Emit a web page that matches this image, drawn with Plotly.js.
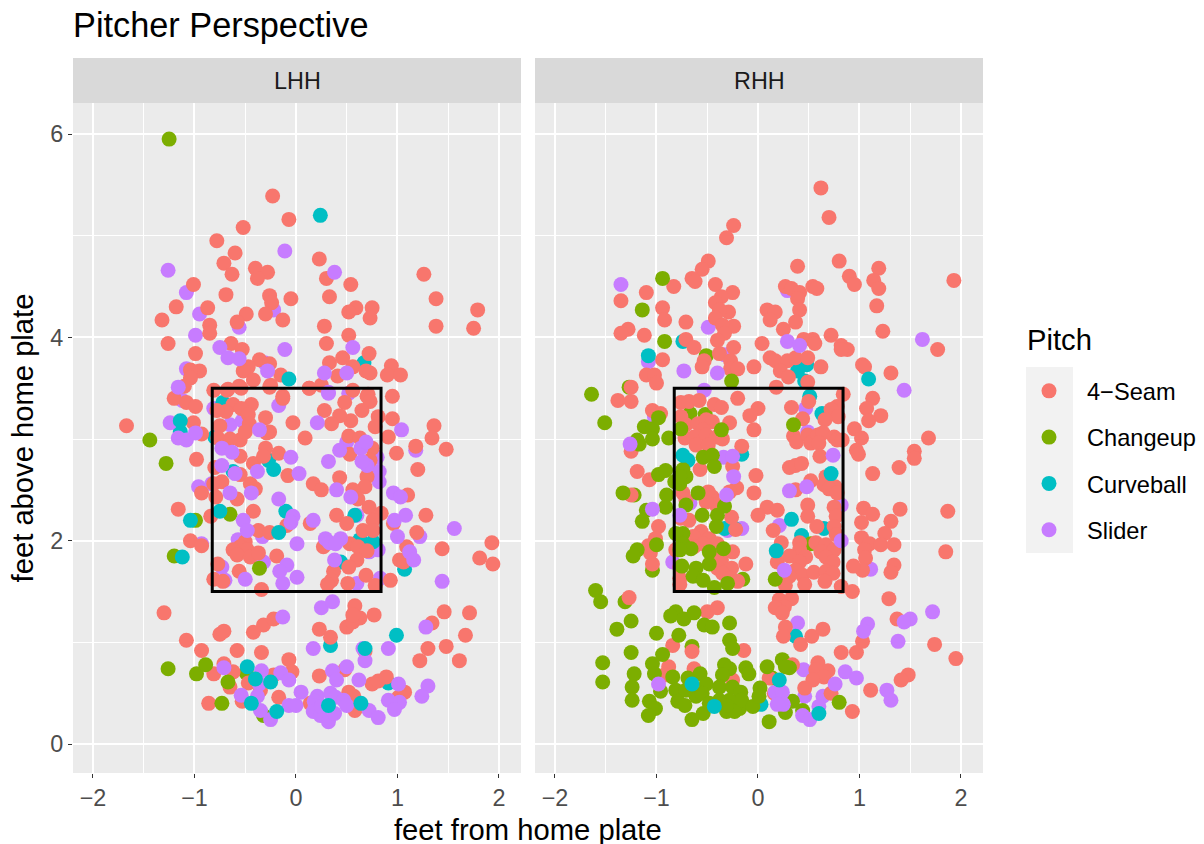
<!DOCTYPE html>
<html><head><meta charset="utf-8">
<script src="https://cdn.plot.ly/plotly-3.0.1.min.js"></script>
<style>html,body{margin:0;padding:0;background:#fff}</style></head>
<body><div id="chart" style="width:1204px;height:844px"></div>
<script>
const pitches = ['4\u2212Seam','Changeup','Curveball','Slider'];
const pitchColors = ['#F8766D','#7CAE00','#00BFC4','#C77CFF'];
const panels = ['LHH','RHH'];
const zoneX = [-0.825,0.838];
const zoneY = [1.5,3.5];

// LHH values: [feet from plate, feet above plate]
const lhhSeam = [[-0.23,5.39],[-0.07,5.16],[-0.52,5.08],[-0.78,4.95],[-0.60,4.83],[-0.71,4.73],[-0.63,4.62],[-0.40,4.68],[-0.28,4.64],[-0.38,4.58],[-0.69,4.42],[-1.01,4.52],[-1.18,4.30],[-1.32,4.17],[-0.87,4.29],[-0.85,4.12],[-0.85,4.04],[-1.26,3.94],[-0.99,3.84],[-0.49,4.23],[-0.58,4.15],[-0.26,4.41],[-0.24,4.34],[-0.30,4.23],[-0.13,4.17],[-0.05,4.38],[0.23,4.77],[0.30,4.58],[0.54,4.52],[0.33,4.40],[0.59,4.29],[0.52,4.25],[0.75,4.29],[0.73,4.19],[0.28,4.11],[0.52,4.02],[0.30,3.94],[0.72,3.84],[1.26,4.62],[1.38,4.38],[1.38,4.11],[1.79,4.27],[1.75,4.09],[-0.64,3.94],[-0.53,3.88],[-0.36,3.78],[-0.26,3.74],[-0.47,3.71],[-0.52,3.67],[-0.95,3.67],[-1.04,3.68],[-1.04,3.60],[-1.10,3.52],[0.33,3.75],[0.46,3.80],[0.56,3.71],[0.41,3.62],[0.69,3.67],[0.73,3.65],[0.94,3.72],[0.90,3.63],[1.03,3.63],[-0.15,3.63],[0.13,3.50],[0.25,3.53],[0.56,3.48],[0.71,3.44],[0.95,3.42],[-0.13,3.42],[-0.81,3.48],[-0.68,3.48],[-0.56,3.52],[-0.42,3.58],[-0.25,3.53],
[-1.67,3.13],[-1.20,3.40],[-1.08,3.36],[-0.99,3.32],[-0.67,3.49],[-0.54,3.50],[-0.26,3.51],[-0.13,3.40],[0.13,3.50],[-0.62,3.34],[-0.44,3.34],[-0.54,3.30],[-0.69,3.27],[-0.78,3.28],[-0.30,3.21],[-0.47,3.24],[-0.46,3.15],[-0.75,3.13],[-0.03,3.16],[0.28,3.28],[0.48,3.36],[0.70,3.42],[0.73,3.37],[0.65,3.28],[0.95,3.20],[0.81,3.22],[0.54,3.18],[0.43,3.23],[0.35,3.15],[0.78,3.12],[1.36,3.13],[1.34,3.01],[1.18,2.93],[1.48,2.90],[1.20,2.70],[0.99,2.86],[0.91,3.02],[0.52,3.03],[0.09,3.01],[0.53,2.85],[0.63,3.01],[0.75,2.91],[0.73,2.79],[0.70,2.63],[0.68,2.53],[0.43,2.62],[0.17,2.56],[0.25,2.50],[-0.08,2.64],[0.56,2.50],[0.61,2.41],[1.10,2.45],[-0.17,2.86],[-0.30,2.91],[-0.42,2.76],[-0.32,2.83],[-0.26,3.07],[-0.29,3.06],[-0.55,2.99],[-0.50,3.07],[-0.65,3.00],[-0.77,3.01],[-0.55,2.83],[-0.93,3.05],[-1.01,3.16],[-0.98,2.80],[-0.80,2.72],[-0.73,2.58],[-0.81,2.56],[-0.93,2.47],[-0.79,2.43],[-0.55,2.65],[-0.45,2.56],[-0.40,2.51],[-0.58,2.41],[-1.16,2.31],[-0.84,2.24],[-0.42,2.29],[0.40,2.25],[0.72,2.33],[0.84,2.27],[0.50,2.17],[0.66,2.10],[0.76,2.20],[0.76,2.10],[0.14,2.17],[1.28,2.25],[1.19,2.08],[0.96,2.17],[-0.09,2.15],[-0.37,2.10],[-0.26,2.08],[-1.04,2.00],[-0.93,1.95],[-0.50,1.99],[-0.55,1.94],[-0.62,1.91],[-0.48,1.91],[-0.58,1.86],[-0.45,1.84],[-0.37,1.88],[-0.19,1.85],[0.27,1.94],[0.53,1.97],[0.61,1.94],[0.70,1.90],[0.60,1.81],[0.52,1.74],[0.37,1.70],[0.35,1.61],[0.31,1.57],[0.51,1.58],[0.69,1.66],[0.78,1.56],[0.93,1.61],[1.44,1.92],[1.93,1.98],[1.81,1.83],[1.94,1.77],[1.09,1.94],[1.02,1.81],[1.06,1.79],[-0.77,1.77],[-0.56,1.70],[-0.81,1.62],[-0.72,1.60],[-0.34,1.52],
[-1.30,1.29],[-1.08,1.02],[-0.93,0.92],[-0.75,1.08],[-0.71,1.11],[-0.58,0.92],[-0.42,1.10],[-0.32,1.17],[-0.22,1.23],[-0.34,0.90],[-0.71,0.79],[-0.62,0.71],[-0.81,0.69],[-0.65,0.56],[-0.07,0.83],[-0.04,0.71],[-0.22,0.68],[-0.47,0.60],[-0.35,0.53],[-0.53,0.42],[-0.86,0.40],[-0.17,0.46],[0.14,0.40],[0.23,0.67],[0.23,1.13],[0.34,1.05],[0.58,1.36],[0.50,1.15],[0.56,1.20],[0.63,1.24],[0.56,1.27],[0.77,1.27],[0.48,0.73],[0.52,0.51],[0.57,0.47],[0.58,0.33],[0.68,0.91],[0.75,0.59],[0.81,0.62],[0.89,0.66],[1.01,0.46],[1.07,0.51],[1.34,1.19],[1.46,1.30],[1.71,1.29],[1.67,1.07],[1.30,0.94],[1.48,0.96],[1.22,0.82],[1.61,0.82]];
const lhhChangeupLow = [[-0.49,0.70],[-0.32,0.28]];
const lhhChangeupTop = [[-1.25,5.95],[-1.44,2.99],[-1.28,2.76],[-0.99,2.20],[-0.65,2.26],[-1.20,1.85],[-0.36,1.73],[-1.26,0.74],[-0.98,0.69],[-0.89,0.78],[-0.67,0.61],[-0.73,0.40]];
const lhhCurveLow = [[0.67,3.75],[-1.14,3.07],[-0.72,3.36],[-0.80,3.02],[-0.27,2.79],[0.58,2.25],[0.63,2.01],[0.76,1.99],[0.44,1.79],[0.34,0.97],[0.91,0.60],[-0.62,2.68],[-0.10,2.29],[1.07,1.72]];
const lhhCurveTop = [[0.24,5.20],[-0.07,3.59],[-1.14,3.18],[-0.22,2.70],[-0.75,2.29],[-0.17,2.08],[-1.04,2.20],[-1.12,1.84],[-0.48,0.76],[-0.40,0.64],[-0.25,0.61],[-0.44,0.40],[-0.19,0.32],[0.68,0.94],[0.99,1.07],[0.32,0.38],[0.64,0.40]];
const lhhSliderLow = [[-1.08,4.44],[-0.95,4.23],[-0.56,4.10],[-0.22,4.27],[-0.99,4.02],[-1.08,3.69],[-0.31,3.75],[-1.12,3.38],[-0.81,3.30],[-0.17,3.33],[0.52,3.45],[-0.65,3.14],[-0.53,3.18],[0.82,2.68],[0.82,2.58],[1.18,2.89],[0.50,2.97],[0.80,2.82],[-0.96,2.53],[-0.83,2.56],[0.60,2.25],[-0.93,1.97],[-0.33,2.04],[-0.57,2.01],[0.72,1.89],[0.81,1.91],[1.22,2.04],[-0.32,1.79],[-0.73,1.74],[-0.70,1.61],[0.60,1.58],[0.83,1.63]];
const lhhSliderTop = [[-1.26,4.66],[-0.11,4.85],[0.38,4.64],[-0.75,3.90],[-0.67,3.80],[-0.56,3.79],[-0.11,3.88],[0.56,3.90],[-1.16,3.51],[-0.28,3.67],[0.28,3.65],[0.50,3.65],[0.32,3.45],[0.32,3.46],[-1.24,3.16],[-1.16,3.01],[-1.08,2.99],[-0.99,3.06],[-0.36,3.09],[0.21,3.16],[1.04,3.09],[-0.73,2.91],[-0.63,2.87],[-0.73,2.74],[-0.38,2.68],[-0.05,2.82],[0.03,2.66],[0.32,2.78],[-0.60,2.66],[0.43,2.89],[0.64,2.91],[0.69,2.97],[0.70,2.74],[0.65,2.78],[0.40,2.50],[0.54,2.43],[-0.65,2.47],[-0.44,2.47],[0.96,2.47],[1.03,2.43],[-0.17,2.41],[-0.52,2.20],[-0.48,2.10],[-0.03,2.24],[-0.05,2.18],[0.17,2.20],[1.08,2.25],[0.97,2.20],[1.56,2.12],[1.00,2.04],[0.01,1.97],[0.29,2.02],[0.33,1.98],[0.44,2.02],[0.39,1.97],[1.12,1.89],[1.16,1.81],[0.38,1.81],[-0.09,1.76],[-0.16,1.70],[-0.50,1.62],[0.01,1.64],[-0.13,1.58],[1.44,1.60],[0.25,1.34],[0.36,1.40],[-0.13,1.25],[1.28,1.15],[0.17,0.94],[0.66,0.94],[0.91,0.94],[0.68,0.82],[-0.71,0.75],[-0.34,0.72],[-0.15,0.70],[-0.07,0.63],[-0.36,0.59],[-0.54,0.48],[-0.38,0.47],[-0.35,0.33],[-0.25,0.24],[-0.07,0.38],[0,0.38],[0.05,0.51],[0.36,0.72],[0.50,0.76],[0.40,0.63],[0.62,0.63],[0.21,0.47],[0.34,0.50],[0.39,0.46],[0.47,0.43],[0.50,0.38],[0.18,0.42],[0.19,0.38],[0.17,0.32],[0.24,0.28],[0.32,0.22],[0.38,0.30],[0.25,0.37],[0.72,0.33],[0.81,0.26],[0.91,0.43],[1.02,0.41],[0.97,0.34],[1.01,0.59],[1.30,0.57],[1.24,0.47]];

// RHH values
const rhhSeam = [[0.62,5.47],[0.70,5.18],[-0.24,5.10],[-0.31,4.98],[-0.49,4.75],[-0.55,4.67],[-0.65,4.58],[-0.62,4.55],[-0.83,4.50],[-1.10,4.44],[-1.35,4.36],[-0.94,4.29],[-0.92,4.17],[-0.71,4.15],[-1.28,4.08],[-1.35,4.04],[-1.12,4.02],[-0.71,3.98],[-0.63,3.90],[-0.94,3.78],[-1.10,3.63],[-1.02,3.63],[-1.00,3.55],[-1.25,3.51],[-0.42,4.52],[-0.25,4.44],[-0.36,4.40],[-0.42,4.34],[-0.29,4.25],[-0.38,4.27],[-0.42,4.19],[-0.24,4.11],[-0.35,4.12],[-0.33,4.04],[-0.40,3.97],[-0.24,3.90],[-0.38,3.84],[-0.27,3.77],[-0.53,3.77],[-0.55,3.71],[-0.27,3.69],[-0.20,3.69],[-0.04,3.71],[0.09,4.27],[0.17,4.25],[0.12,4.17],[0.04,3.94],[0.25,4.08],[0.27,4.50],[0.33,4.48],[0.41,4.44],[0.39,4.38],[0.41,4.27],[0.37,4.15],[0.39,4.70],[0.54,4.50],[0.58,4.48],[0.45,3.98],[0.54,3.98],[0.56,3.94],[0.72,4.02],[0.82,3.92],[0.88,3.88],[0.82,3.88],[0.80,4.75],[0.90,4.60],[0.95,4.52],[1.19,4.68],[1.14,4.56],[1.19,4.48],[1.17,4.31],[1.23,4.06],[1.93,4.56],[1.77,3.88],[1.03,3.73],[1.05,3.71],[1.31,3.65],[0.12,3.80],[0.17,3.77],[0.29,3.77],[0.37,3.80],[0.49,3.80],[0.22,3.67],[0.30,3.61],[0.62,3.71],[0.49,3.56],[0.18,3.51],
[-1.38,3.38],[-1.25,3.37],[-1.04,3.28],[-0.96,3.25],[-1.25,2.88],[-1.19,2.68],[-1.07,2.60],[-1.25,2.45],[-0.98,2.14],[-1.01,2.02],[-1.08,1.95],[-1.06,1.88],[-1.04,1.77],[-0.76,3.36],[-0.68,3.37],[-0.58,3.38],[-0.43,3.34],[-0.36,3.31],[-0.20,3.40],[0.00,3.30],[-0.08,3.23],[-0.04,3.09],[-0.28,3.16],[-0.76,3.22],[-0.71,3.14],[-0.59,3.15],[-0.51,3.19],[-0.45,3.17],[-0.54,3.09],[-0.72,3.01],[-0.63,3.02],[-0.51,3.04],[-0.41,3.02],[-0.35,3.00],[-0.61,2.94],[-0.49,2.94],[-0.16,2.93],[-0.25,2.73],[-0.57,2.70],[-0.02,2.64],[-0.21,2.52],[-0.28,2.48],[-0.04,2.47],[-0.74,2.47],[-0.71,2.40],[-0.76,2.22],[-0.68,2.20],[-0.49,2.48],[-0.45,2.43],[-0.41,2.35],[-0.51,2.38],[-0.26,2.23],[-0.22,2.11],[-0.56,2.09],[-0.64,2.04],[-0.48,2.02],[-0.54,1.97],[-0.40,1.97],[-0.63,1.94],[-0.25,1.89],[-0.45,1.86],[-0.36,1.81],[-0.12,1.77],[-0.26,1.73],[-0.40,1.73],[-0.35,1.68],[-0.20,1.60],[-0.28,1.63],[-0.77,1.74],[-0.77,1.63],[-0.77,1.57],[-0.81,1.91],
[0.33,3.31],[0.50,3.37],[0.44,3.20],[0.78,3.32],[0.72,3.29],[0.79,3.22],[0.84,3.44],[0.66,3.19],[1.13,3.40],[1.07,3.30],[1.21,3.23],[1.09,3.18],[0.95,3.10],[1.02,3.01],[0.97,2.89],[0.99,2.85],[1.68,3.01],[1.54,2.88],[1.54,2.81],[1.39,2.72],[1.13,2.66],[0.35,3.03],[0.38,2.97],[0.49,3.04],[0.52,2.96],[0.59,3.04],[0.64,3.06],[0.60,2.96],[0.75,3.02],[0.78,2.99],[0.83,2.99],[0.61,2.83],[0.31,2.72],[0.37,2.74],[0.43,2.76],[0.37,2.50],[0.52,2.59],[0.67,2.63],[0.65,2.55],[0.76,2.53],[0.70,2.51],[0.78,2.47],[0.49,2.35],[0.49,2.24],[0.09,2.33],[0.00,2.25],[0.19,2.30],[0.58,2.14],[0.75,2.33],[0.77,2.24],[0.75,2.14],[0.77,2.06],[0.15,2.10],[0.23,1.98],[0.41,1.98],[0.41,1.91],[0.57,1.98],[0.67,1.96],[0.62,1.89],[0.75,1.91],[0.31,1.85],[0.47,1.84],[0.19,1.79],[0.41,1.79],[0.67,1.84],[0.74,1.79],[0.37,1.71],[0.44,1.66],[0.55,1.69],[0.67,1.70],[0.74,1.68],[0.31,1.65],[0.66,1.60],[0.46,1.57],[0.27,1.56],[0.82,1.55],[0.93,1.50],[1.04,2.32],[1.13,2.26],[1.02,2.18],[1.31,2.19],[1.40,2.31],[1.87,2.29],[1.25,2.07],[1.02,2.03],[1.10,1.97],[1.21,1.96],[1.34,1.96],[1.05,1.91],[1.06,1.83],[1.03,1.71],[0.94,1.75],[1.34,1.76],[1.31,1.69],[1.85,1.89],[1.29,1.43],
[-1.27,1.44],[-0.50,1.30],[-0.40,1.34],[0.21,1.42],[0.33,1.43],[0.26,1.35],[0.17,1.34],[0.24,1.29],[0.27,1.15],[0.25,1.06],[0.42,0.98],[0.53,1.06],[0.64,1.13],[-0.84,0.97],[-0.65,0.91],[-0.88,0.76],[-0.92,0.68],[-0.63,0.74],[-0.14,0.92],[-0.25,0.63],[0.34,0.78],[0.11,0.65],[0.16,0.50],[0.59,0.80],[0.69,0.72],[0.57,0.73],[0.65,0.66],[0.54,0.63],[0.46,0.55],[0.72,0.50],[0.82,0.90],[0.97,0.90],[1.03,1.01],[1.37,1.23],[1.74,0.98],[1.95,0.84],[1.48,0.68],[1.41,0.63],[1.11,0.53],[0.93,0.32]];
const rhhChangeupLow = [[-1.27,3.51],[-1.31,1.40],[-0.65,0.96],[0.52,1.97],[-1.22,2.45],[-0.51,3.82],[-1.04,1.71],[0.24,0.83],[-0.15,1.62],[-0.52,3.24],[-0.67,3.25],[0.14,0.65]];
const rhhChangeupTop = [[-0.94,4.58],[-1.14,4.27],[-0.92,3.96],[-0.26,3.57],[-1.64,3.44],[-1.51,3.16],[-1.12,3.12],[-1.04,3.10],[-0.98,3.21],[-1.04,3.00],[-1.19,2.99],[-1.17,2.95],[-0.88,3.01],[-0.76,3.10],[-0.36,3.09],[0.35,3.14],[-0.54,2.82],[-0.45,2.84],[-0.43,2.73],[-0.98,2.65],[-0.91,2.69],[-0.74,2.70],[-0.71,2.63],[-0.77,2.56],[-0.82,2.58],[-0.77,2.63],[-1.33,2.47],[-0.90,2.45],[-0.59,2.47],[-0.91,2.33],[-1.10,2.30],[-1.14,2.19],[-0.55,2.25],[-0.40,2.25],[-0.41,2.14],[-0.33,2.34],[-0.71,2.35],[-0.74,2.07],[-0.81,2.07],[-0.74,1.97],[-0.66,1.92],[-0.77,1.91],[-1.00,1.96],[-1.19,1.91],[-1.23,1.85],[-0.34,1.92],[-0.48,1.89],[-0.48,1.77],[-0.75,1.75],[-0.61,1.73],[-0.64,1.65],[-0.54,1.61],[0.17,1.62],[-0.30,1.58],[-0.43,1.54],[-1.60,1.51],
[-1.55,1.40],[-1.39,1.13],[-1.25,1.21],[-1.00,1.09],[-0.78,1.07],[-0.81,1.30],[-0.86,1.26],[-0.73,1.23],[-0.63,1.29],[-0.53,1.17],[-0.45,1.15],[-0.28,1.19],[-0.28,1.02],[-0.25,0.94],[-1.25,0.90],[-0.94,0.88],[-1.53,0.80],[-1.53,0.61],[-1.22,0.69],[-1.24,0.56],[-1.24,0.43],[-1.04,0.79],[-1.02,0.69],[-0.96,0.52],[-1.07,0.42],[-1.01,0.35],[-1.08,0.28],[-0.84,0.66],[-0.81,0.53],[-0.79,0.42],[-0.72,0.38],[-0.69,0.65],[-0.57,0.69],[-0.51,0.59],[-0.61,0.47],[-0.71,0.53],[-0.55,0.50],[-0.65,0.24],[-0.54,0.30],[-0.33,0.78],[-0.28,0.74],[-0.35,0.68],[-0.38,0.56],[-0.25,0.56],[-0.17,0.51],[-0.38,0.43],[-0.28,0.43],[-0.48,0.40],[-0.31,0.32],[-0.18,0.35],[-0.23,0.32],[-0.31,0.38],[-0.16,0.43],[-0.05,0.37],[-0.12,0.75],[-0.09,0.69],[0.09,0.76],[0.02,0.55],[0.01,0.47],[0.31,0.75],[0.27,0.76],[0.11,0.22],[0.27,0.31],[0.34,0.42],[0.44,0.33],[0.80,0.41]];
const rhhCurveLow = [[-0.74,3.96],[0.48,3.73],[0.39,3.67],[0.46,3.57],[0.51,3.42],[0.63,3.25],[0.65,2.12],[0.43,2.05],[-0.16,2.85],[-0.23,2.12],[-0.33,2.12],[0.37,1.06],[0.03,0.39],[-0.69,2.79]];
const rhhCurveTop = [[-1.08,3.82],[1.09,3.59],[0.72,2.66],[0.33,2.21],[0.18,1.90],[-0.74,2.84],[0.21,0.63],[-0.65,0.59],[-0.43,0.37],[0.60,0.30]];
const rhhSliderLow = [[-0.49,4.10],[0.29,4.46],[-0.33,3.83],[-0.71,3.19],[-1.02,3.22],[-0.53,3.48],[-0.16,2.12],[-0.30,2.10],[0.47,3.30],[0.49,3.07],[0.21,2.15],[0.82,2.35],[1.11,1.72],[-0.84,1.79],[-0.67,2.37],[-0.34,2.82],[-1.08,3.76],[0.39,1.19],[0.45,0.73],[-0.22,0.48],[0.46,0.47],[0.64,0.47]];
const rhhSliderTop = [[-1.35,4.52],[0.29,3.96],[0.41,3.92],[-0.73,3.67],[-0.40,3.65],[1.62,3.98],[1.44,3.48],[-1.26,2.95],[-0.25,2.83],[-0.24,2.63],[-0.31,2.45],[-1.04,2.31],[-0.77,2.25],[0.31,2.49],[0.48,2.53],[0.74,2.84],[0.82,2.00],[0.26,1.71],[1.08,1.18],[1.04,1.11],[1.50,1.23],[1.44,1.20],[1.72,1.30],[1.38,1.01],[0.86,0.71],[0.97,0.65],[0.76,0.59],[1.27,0.53],[1.31,0.43],[-0.98,0.59],[0.17,0.51],[0.24,0.51],[0.25,0.39],[0.19,0.39],[0.60,0.37],[0.44,0.28],[0.51,0.24]];

// Pitch index per layer; the order is the drawing order within each panel
const layerPitch = [3,2,1,0,1,3,2];
const lhhLayers = [lhhSliderLow,lhhCurveLow,lhhChangeupLow,lhhSeam,lhhChangeupTop,lhhSliderTop,lhhCurveTop];
const rhhLayers = [rhhSliderLow,rhhCurveLow,rhhChangeupLow,rhhSeam,rhhChangeupTop,rhhSliderTop,rhhCurveTop];

const data = [];
const legendDone = {};
[lhhLayers,rhhLayers].forEach((layers,pi)=>{
  layers.forEach((pts,li)=>{
    const p = layerPitch[li];
    const show = !legendDone[p];
    legendDone[p] = true;
    data.push({
      type:'scatter',mode:'markers',
      x:pts.map(d=>d[0]),y:pts.map(d=>d[1]),
      xaxis:pi?'x2':'x',yaxis:pi?'y2':'y',
      name:pitches[p],legendgroup:pitches[p],legendrank:p+1,showlegend:show,
      marker:{color:pitchColors[p],size:15,line:{width:0}},
      hoverinfo:'x+y+name'
    });
  });
});

const font = 'Liberation Sans, Arial, sans-serif';
const tickFont = {family:font,size:23.4,color:'#4D4D4D'};
const xBase = {
  range:[-2.197,2.217],tickmode:'linear',tick0:0,dtick:1,
  showgrid:true,gridcolor:'#FFFFFF',gridwidth:2,zeroline:false,showline:false,
  ticks:'outside',ticklen:4,tickwidth:1.4,tickcolor:'#333333',tickfont:tickFont,
  minor:{dtick:0.5,tick0:0,showgrid:true,gridcolor:'#FFFFFF',gridwidth:1,ticks:''}
};
const yBase = {
  range:[-0.285,6.305],tickmode:'linear',tick0:0,dtick:2,
  showgrid:true,gridcolor:'#FFFFFF',gridwidth:2,zeroline:false,showline:false,
  ticks:'outside',ticklen:4,tickwidth:1.4,tickcolor:'#333333',tickfont:tickFont,
  minor:{dtick:1,tick0:0,showgrid:true,gridcolor:'#FFFFFF',gridwidth:1,ticks:''}
};
const stripH = 45/670;
const shapes = [];
const annotations = [];
panels.forEach((name,i)=>{
  const xr = i?'x2':'x', yr = i?'y2':'y';
  shapes.push({type:'rect',xref:xr+' domain',yref:'paper',x0:0,x1:1,y0:1,y1:1+stripH,fillcolor:'#D9D9D9',line:{width:0}});
  shapes.push({type:'rect',xref:xr,yref:yr,x0:zoneX[0],x1:zoneX[1],y0:zoneY[0],y1:zoneY[1],fillcolor:'rgba(0,0,0,0)',line:{color:'#000000',width:3},layer:'above'});
  annotations.push({xref:xr+' domain',yref:'paper',x:0.5,y:1+stripH/2,text:name,showarrow:false,xanchor:'center',yanchor:'middle',font:{family:font,size:23.4,color:'#1A1A1A'}});
});
// grey key background of the legend
shapes.push({type:'rect',xref:'paper',yref:'paper',x0:(1026-73)/910,x1:(1073-73)/910,y0:(773-553)/670,y1:(773-367)/670,fillcolor:'#F2F2F2',line:{width:0},layer:'below'});
annotations.push({xref:'paper',yref:'paper',x:(527.5-73)/910,y:(773-830)/670,text:'feet from home plate',showarrow:false,xanchor:'center',yanchor:'middle',font:{family:font,size:29.2,color:'#000000'}});
annotations.push({xref:'paper',yref:'paper',x:(1027-73)/910,y:(773-340)/670,text:'Pitch',showarrow:false,xanchor:'left',yanchor:'middle',xshift:-2,font:{family:font,size:29.2,color:'#000000'}});

const layout = {
  width:1204,height:844,autosize:false,
  margin:{l:73,r:221,t:103,b:71,pad:0,autoexpand:false},
  paper_bgcolor:'#FFFFFF',plot_bgcolor:'#EBEBEB',
  font:{family:font,color:'#000000'},
  title:{text:'Pitcher Perspective',x:0,xanchor:'left',xref:'paper',y:1-25/844,yanchor:'middle',font:{family:font,size:34.3,color:'#000000'}},
  xaxis:Object.assign({},xBase,{domain:[0,448/910],anchor:'y'}),
  xaxis2:Object.assign({},xBase,{domain:[462/910,1],anchor:'y2'}),
  yaxis:Object.assign({},yBase,{domain:[0,1],anchor:'x',title:{text:'feet above home plate',font:{family:font,size:29.2,color:'#000000'},standoff:8}}),
  yaxis2:Object.assign({},yBase,{domain:[0,1],anchor:'x2',showticklabels:false,ticks:''}),
  shapes:shapes,annotations:annotations,
  showlegend:true,
  legend:{x:(1011-73)/910,xanchor:'left',y:(773-369)/670,yanchor:'top',bgcolor:'rgba(0,0,0,0)',borderwidth:0,
    traceorder:'grouped',tracegroupgap:12.6,itemwidth:66,itemclick:false,itemdoubleclick:false,
    font:{family:font,size:23.6,color:'#000000'}}
};
Plotly.newPlot('chart',data,layout,{displayModeBar:false,responsive:false});
</script></body></html>
